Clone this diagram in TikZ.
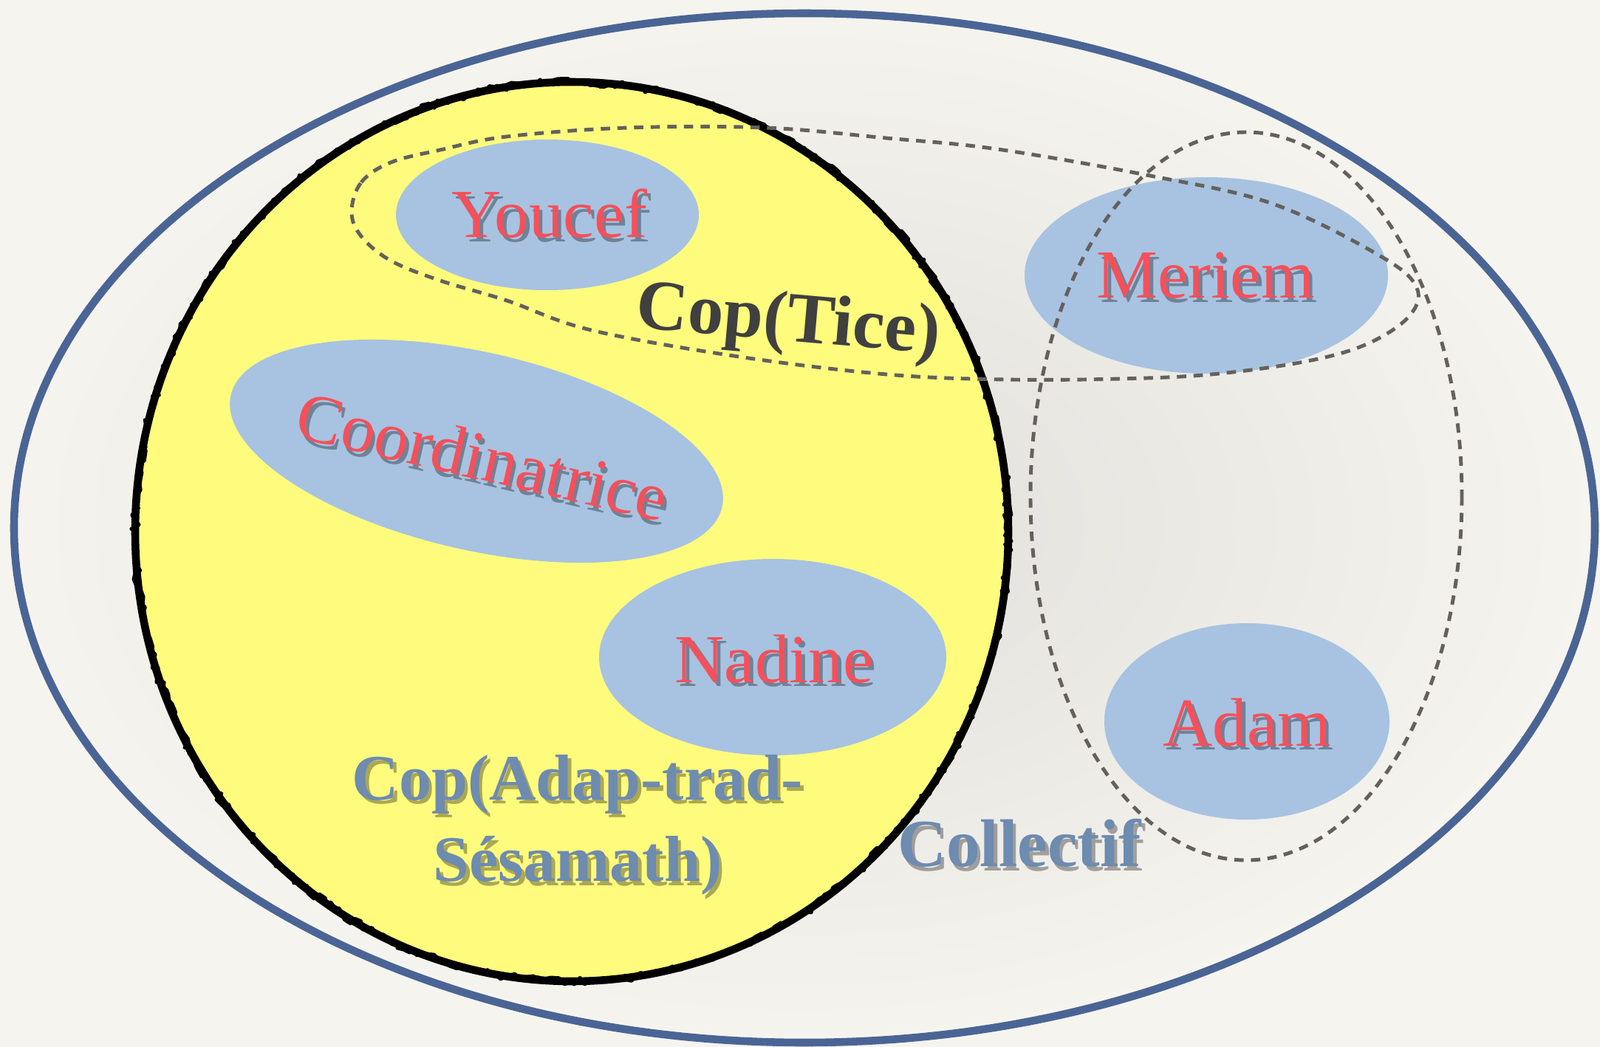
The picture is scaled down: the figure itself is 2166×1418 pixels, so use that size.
\documentclass[tikz,border=0pt]{standalone}
\usepackage{fontspec}
\setmainfont{Liberation Serif}
\usetikzlibrary{decorations.pathmorphing}

\definecolor{bglight}{RGB}{246,244,238}
\definecolor{bgdark}{RGB}{225,223,219}
\definecolor{outerblue}{RGB}{74,101,149}
\definecolor{copyellow}{RGB}{255,251,125}
\definecolor{blobblue}{RGB}{167,195,225}
\definecolor{namered}{RGB}{245,80,90}
\definecolor{steel}{RGB}{110,139,176}
\definecolor{dashgray}{RGB}{100,97,93}
\definecolor{ticegray}{RGB}{64,64,64}

% text with a soft drop shadow
\newcommand{\shad}[1]{\makebox[0pt][l]{\hspace{1.3pt}\raisebox{-1.6pt}{\pgfsetfillopacity{0.33}\color{black}#1\pgfsetfillopacity{1}}}#1}

\begin{document}
\begin{tikzpicture}[x=0.01cm, y=-0.01cm,
	member/.style={text=namered, font=\fontsize{26.5}{30}\selectfont},
	cop/.style={text=steel, font=\bfseries\fontsize{25}{31.3}\selectfont},
	dashes/.style={dashgray, line width=1.4pt, dash pattern=on 3.6pt off 2.8pt},
	blob/.style={fill=blobblue}]
	%background
	\useasboundingbox (0,0) rectangle (2166,1418);
	\shade[inner color=bgdark, outer color=bglight] (0,0) rectangle (2166,1418);

	%collectif
	\draw[outerblue, line width=3pt] (1089,715) ellipse (1070 and 697);

	%cop adap-trad-sesamath
	\fill[copyellow] (774,720) ellipse (591 and 609);
	\draw[line width=3pt] (774,720) ellipse (591 and 609);
	\draw[line width=1.4pt, line join=round, decorate, decoration={random steps, segment length=2pt, amplitude=1.5pt}] (774,720) ellipse (591 and 609);

	%members
	\fill[blob] (741,291) ellipse (205 and 102);
	\fill[blob, rotate around={-12.85:(645,611)}] (645,611) ellipse (341 and 134);
	\fill[blob] (1046,890) ellipse (235 and 133);
	\fill[blob] (1633,373) ellipse (246 and 133);
	\fill[blob] (1688,977) ellipse (193 and 133);

	\node[member] (youcef) at (744,292) {\shad{Youcef}};
	\node[member, rotate=-13] (coord) at (653,621) {\shad{Coordinatrice}};
	\node[member] (nadine) at (1048,895) {\shad{Nadine}};
	\node[member] (meriem) at (1632,376) {\shad{Meriem}};
	\node[member] (adam) at (1688,981) {\shad{Adam}};

	\node[cop, align=center] (sesamath) at (782,1120) {\shad{Cop(Adap-trad-}\\\shad{Sésamath)}};
	\node[cop, font=\bfseries\fontsize{26}{30}\selectfont] (collectif) at (1380,1145) {\shad{Collectif}};
	\node[text=ticegray, font=\bfseries\fontsize{27.5}{32}\selectfont, rotate=-5] (tice) at (1067,438) {Cop(Tice)};

	%cop tice
	\draw[dashes] plot[smooth cycle, tension=0.6] coordinates {
		(476,287) (489,247) (529,220) (596,203) (686,185) (850,173) (1036,173)
		(1200,187) (1350,202) (1557,238) (1723,276) (1869,347) (1918,390)
		(1906,430) (1848,467) (1765,490) (1640,507) (1516,513) (1360,514)
		(1200,507) (1000,483) (800,447) (686,407) (596,380) (529,353) (489,320)};

	%right group
	\draw[dashes] (1687,672) ellipse (292 and 493);
\end{tikzpicture}
\end{document}
